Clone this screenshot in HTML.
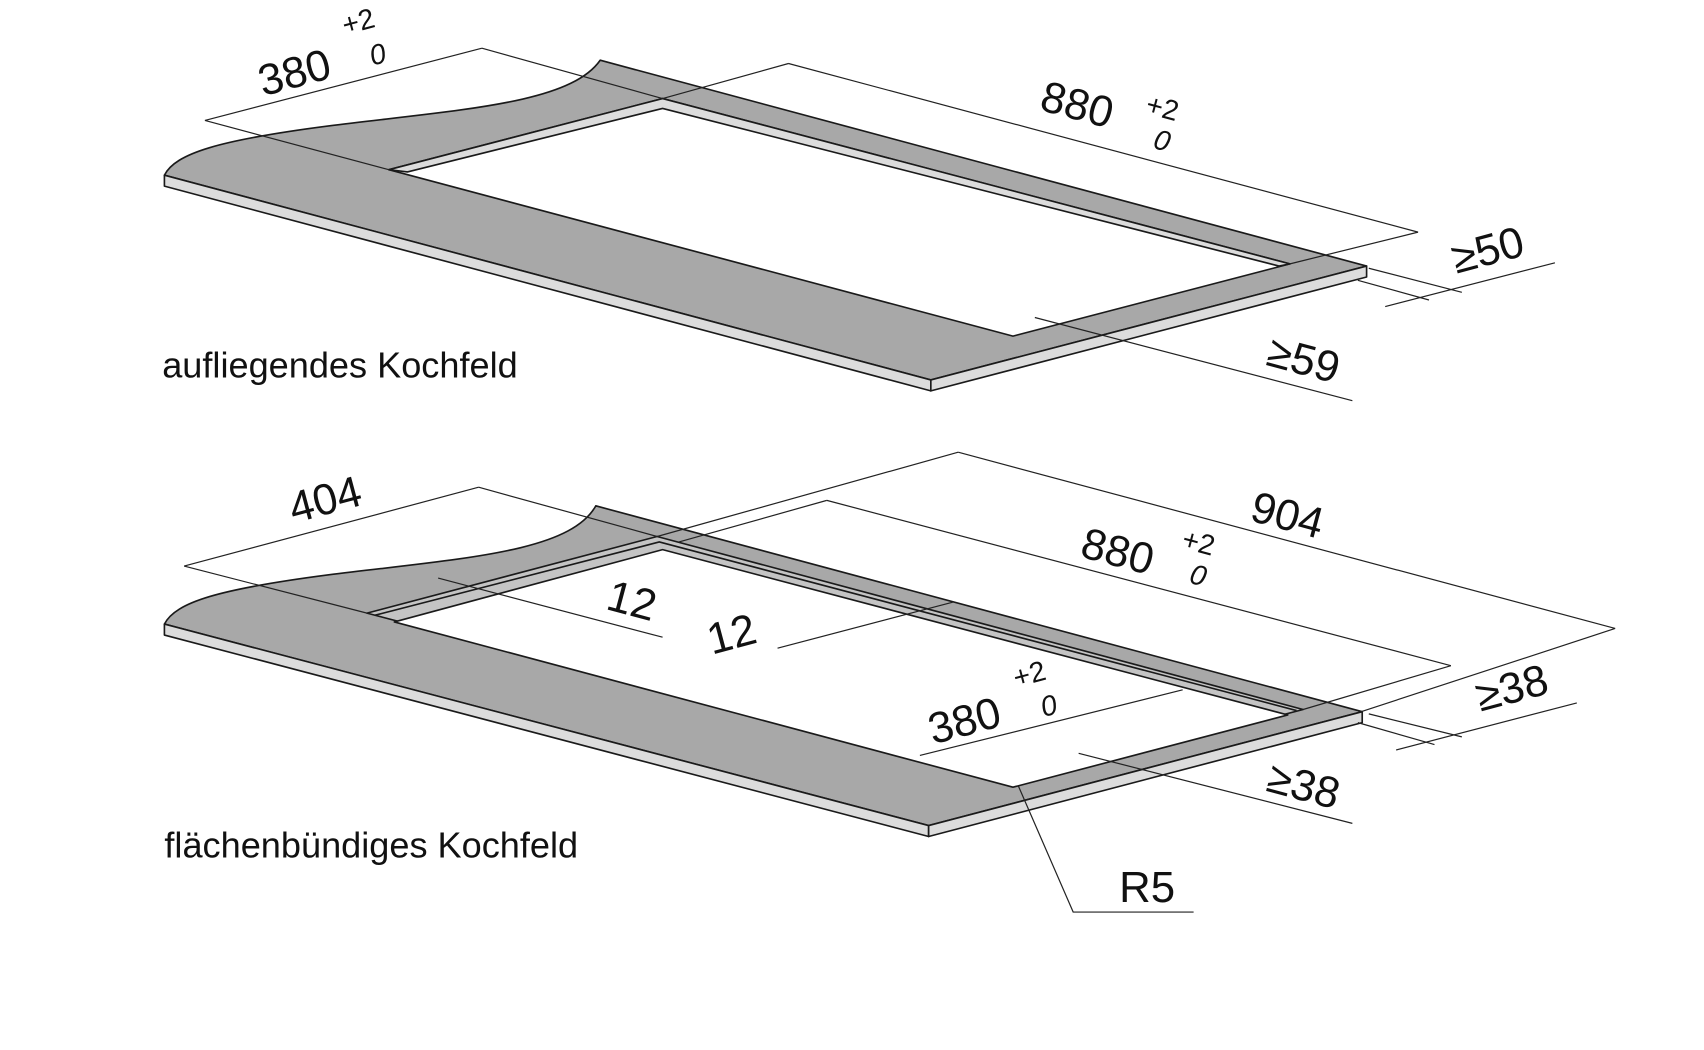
<!DOCTYPE html>
<html><head><meta charset="utf-8"><style>
html,body{margin:0;padding:0;background:#fff;}
svg{display:block;}
text{font-family:"Liberation Sans",Arial,sans-serif;fill:#111;}
</style></head><body>
<svg width="1704" height="1050" viewBox="0 0 1556 959" xmlns="http://www.w3.org/2000/svg">
<g stroke="#1a1a1a" stroke-width="1.5" stroke-linejoin="round">
<!-- TOP slab -->
<path d="M150,160 C160,140 200,128 300,115 C420,100 520,95 548,55 L1248,243 L850,347 Z" fill="#a8a8a8"/>
<polygon points="150,160 850,347 850,357 150,170" fill="#dcdcdc"/>
<polygon points="850,347 1248,243 1248,253 850,357" fill="#dcdcdc"/>
<polygon points="355,155 605,90 1178,241 925,307" fill="#fff"/>
<polygon points="355,155 605,90 1178,241 1168,243 605,99 372,157" fill="#dcdcdc"/>
<!-- BOTTOM slab -->
<g transform="translate(-4,407)">
<path d="M154,163 C164,143 204,131 304,118 C424,103 524,98 548,55 L1248,243 L852,347 Z" fill="#a8a8a8"/>
<polygon points="154,163 852,347 852,357 154,173" fill="#dcdcdc"/>
<polygon points="852,347 1248,243 1248,253 852,357" fill="#dcdcdc"/>
<polygon points="339,153 604,83 1194,241 934,309" fill="#c4c4c4"/>
<polygon points="364,161 609,95 1180,246 929,312" fill="#fff"/>
<polyline points="346,155 606,88 1188,242" fill="none"/>
</g>
</g>
<g stroke="#222" stroke-width="1.1" fill="none">
<!-- top dims -->
<line x1="187" y1="110" x2="440" y2="44"/><line x1="187" y1="110" x2="355" y2="155"/><line x1="440" y1="44" x2="605" y2="90"/>
<line x1="720" y1="58" x2="1295" y2="212"/><line x1="605" y1="90" x2="720" y2="58"/><line x1="1178" y1="241" x2="1295" y2="212"/>
<line x1="1265" y1="280" x2="1420" y2="240"/><line x1="1250" y1="245" x2="1335" y2="267"/><line x1="1240" y1="256" x2="1305" y2="274"/>
<line x1="945" y1="290" x2="1235" y2="366"/>
<!-- bottom dims -->
<line x1="168" y1="517" x2="437" y2="445"/><line x1="168" y1="517" x2="335" y2="560"/><line x1="437" y1="445" x2="600" y2="490"/>
<line x1="600" y1="490" x2="875" y2="413"/><line x1="875" y1="413" x2="1475" y2="574"/><line x1="1243" y1="650" x2="1475" y2="574"/>
<line x1="620" y1="495" x2="755" y2="457"/><line x1="755" y1="457" x2="1325" y2="608"/><line x1="1190" y1="648" x2="1325" y2="608"/>
<line x1="400" y1="528" x2="605" y2="582"/><line x1="710" y1="592" x2="870" y2="550"/>
<line x1="840" y1="690" x2="1080" y2="630"/>
<line x1="1275" y1="685" x2="1440" y2="642"/><line x1="1250" y1="652" x2="1335" y2="673"/><line x1="1240" y1="660" x2="1310" y2="680"/>
<line x1="985" y1="688" x2="1235" y2="752"/>
<polyline points="930,718 980,833 1090,833"/>
</g>
<g font-size="40">
<text transform="translate(240,88) rotate(-15)">380</text>
<text font-size="26" transform="translate(315,32) rotate(-15)">+2</text>
<text font-size="26" font-style="italic" transform="translate(340,60) rotate(-15)">0</text>
<text transform="translate(948,100) rotate(15)">880</text>
<text font-size="26" transform="translate(1045,103) rotate(15)">+2</text>
<text font-size="26" font-style="italic" transform="translate(1052,135) rotate(15)">0</text>
<text transform="translate(1330,250) rotate(-15)">≥50</text>
<text transform="translate(1155,333) rotate(15)">≥59</text>
<text font-size="33" x="148" y="345">aufliegendes Kochfeld</text>

<text transform="translate(268,478) rotate(-15)">404</text>
<text transform="translate(1140,475) rotate(15)">904</text>
<text transform="translate(985,508) rotate(15)">880</text>
<text font-size="26" transform="translate(1078,500) rotate(15)">+2</text>
<text font-size="26" font-style="italic" transform="translate(1085,532) rotate(15)">0</text>
<text transform="translate(552,556) rotate(15)">12</text>
<text transform="translate(650,598) rotate(-15)">12</text>
<text transform="translate(852,680) rotate(-15)">380</text>
<text font-size="26" transform="translate(928,628) rotate(-15)">+2</text>
<text font-size="26" font-style="italic" transform="translate(953,655) rotate(-15)">0</text>
<text transform="translate(1352,650) rotate(-15)">≥38</text>
<text transform="translate(1155,722) rotate(15)">≥38</text>
<text x="1022" y="824">R5</text>
<text font-size="33" x="150" y="783">flächenbündiges Kochfeld</text>
</g>
</svg>
</body></html>
